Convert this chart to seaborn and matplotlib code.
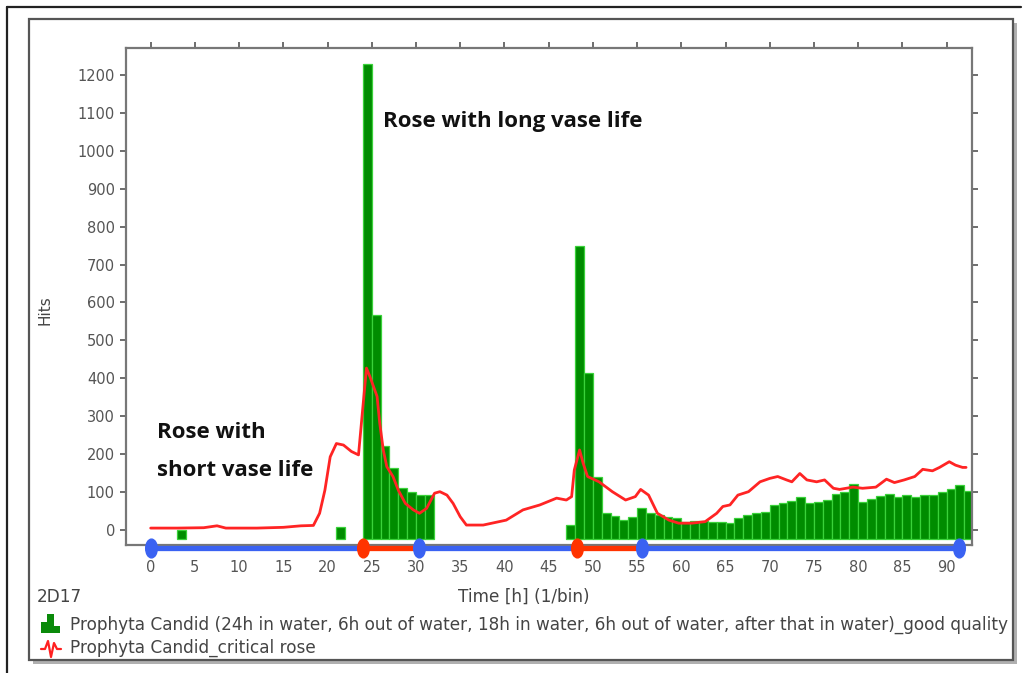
import numpy as np
import pandas as pd
import matplotlib
matplotlib.use("Agg")
import matplotlib.pyplot as plt
import seaborn as sns
from matplotlib.patches import Rectangle
from matplotlib.lines import Line2D
from matplotlib.path import Path
import matplotlib.transforms as mtrans

# ---------------- data ----------------
bar_hours = [3, 21, 24, 25, 26, 27, 28, 29, 30, 31,
             47, 48, 49, 50, 51, 52, 53, 54, 55, 56, 57, 58, 59, 60, 61, 62, 63, 64,
             65, 66, 67, 68, 69, 70, 71, 72, 73, 74, 75, 76, 77, 78, 79, 80,
             81, 82, 83, 84, 85, 86, 87, 88, 89, 90, 91, 92]
bar_hits = [1, 8, 1230, 568, 222, 163, 111, 101, 92, 92,
            13, 749, 413, 141, 46, 37, 26, 33, 57, 46, 40, 33, 31, 22, 24, 24, 22, 22,
            18, 32, 40, 45, 48, 66, 70, 77, 88, 70, 75, 79, 95, 101, 121, 75,
            82, 90, 95, 88, 92, 88, 92, 92, 101, 107, 119, 103]

line_t = [0, 3, 6, 7.5, 8.5, 12, 15, 17, 18.4, 19.1, 19.7, 20.3, 21.0, 21.8, 22.7, 23.5,
          23.9, 24.4, 24.8, 25.6, 25.9, 26.3, 26.7, 27.4, 28.0, 28.8, 29.7, 30.4, 31.2,
          32.1, 32.7, 33.5, 34.2, 35.0, 35.7, 37.6, 40.2, 42.1, 44.0, 45.9, 47.0, 47.6,
          47.9, 48.5, 48.9, 49.4, 50.7, 52.2, 53.7, 54.8, 55.4, 56.3, 57.3, 58.6, 59.7,
          61.2, 62.7, 64.0, 64.7, 65.5, 66.4, 67.6, 68.9, 70.0, 70.9, 71.9, 72.5, 73.4,
          74.2, 75.3, 76.2, 77.2, 77.9, 79.4, 80.5, 82.0, 83.2, 84.1, 85.2, 86.4, 87.3,
          88.4, 89.2, 90.3, 91.0, 91.8, 92.2]
line_hits = [5, 5, 6, 11, 5, 5, 7, 11, 12, 44, 105, 193, 228, 224, 207, 198,
             300, 427, 404, 352, 282, 211, 167, 141, 105, 70, 53, 44, 57,
             97, 101, 92, 70, 35, 13, 13, 26, 53, 66, 84, 79, 88,
             158, 211, 176, 141, 127, 101, 79, 88, 107, 92, 44, 26, 18,
             18, 22, 44, 62, 66, 92, 101, 127, 136, 141, 132, 127, 149,
             132, 127, 132, 110, 107, 113, 110, 113, 134, 125, 132, 141, 160,
             156, 165, 180, 171, 165, 165]

# timeline of treatment (hours): in water (blue) / out of water (red)
phase_start = [0, 24, 30.3, 48.2, 55.6]
phase_end = [24, 30.3, 48.2, 55.6, 91.4]
phase_state = ["water", "dry", "water", "dry", "water"]

x_ticks = list(range(0, 95, 5))
y_ticks = list(range(0, 1300, 100))

series_bar = "Prophyta Candid (24h in water, 6h out of water, 18h in water, 6h out of water, after that in water)_good quality"
series_line = "Prophyta Candid_critical rose"

# ---------------- style ----------------
sns.set_theme(style="white")
plt.rcParams['font.family'] = ['DejaVu Sans']

W, H = 1028, 673
fig = plt.figure(figsize=(W / 100, H / 100), dpi=100)
fig.patch.set_facecolor("white")


def fx(px):
    return px / W


def fy(py):
    return 1 - py / H


# frames (behind the axes)
fig.add_artist(Line2D([fx(7), fx(7)], [fy(7), fy(673)], color="#222222", lw=1.6, zorder=-10))
fig.add_artist(Line2D([fx(7), fx(1021)], [fy(7), fy(7)], color="#222222", lw=1.6, zorder=-10))
fig.add_artist(Rectangle((fx(33), fy(664)), fx(1017) - fx(33), fy(23) - fy(664),
                         facecolor="#b0b0b0", edgecolor="none", zorder=-10))
fig.add_artist(Rectangle((fx(29), fy(660)), fx(1013) - fx(29), fy(19) - fy(660),
                         facecolor="white", edgecolor="#555555", lw=1.6, zorder=-9))

ax = fig.add_axes([fx(126), fy(545), fx(972) - fx(126), fy(48) - fy(545)])
ax.set_facecolor("white")

base = -25
df_bar = pd.DataFrame({"hour": bar_hours, "hits": bar_hits})
ax.bar(df_bar["hour"], df_bar["hits"] - base, bottom=base, width=1.0, align="edge",
       color="#008c00", edgecolor="#3ad23a", linewidth=0.9, zorder=2)

df_line = pd.DataFrame({"t": line_t, "hits": line_hits})
sns.lineplot(data=df_line, x="t", y="hits", ax=ax, color="#ff2424", lw=2.0,
             zorder=3, legend=False)

ax.set_xlim(-2.79, 92.87)
ax.set_ylim(-39.6, 1271)
ax.set_xticks(x_ticks)
ax.set_xticklabels([str(v) for v in x_ticks])
ax.set_yticks(y_ticks)
ax.set_yticklabels([str(v) for v in y_ticks])
ax.set_xlabel("")
ax.set_ylabel("")

for s in ax.spines.values():
    s.set_color("#777777")
    s.set_linewidth(1.6)

ax.tick_params(axis="both", which="both", direction="out", length=4, width=1.2,
               color="#555555", labelcolor="#555555", labelsize=10.5,
               top=True, right=True, bottom=True, left=True,
               labeltop=False, labelright=False)
ax.tick_params(axis="x", pad=7)
ax.tick_params(axis="y", pad=4)

# treatment timeline below the axis
ell = Path.unit_circle().transformed(mtrans.Affine2D().scale(0.62, 1.0))
y_tl = -47.5
for s0, s1, st in zip(phase_start, phase_end, phase_state):
    col = "#3a62f2" if st == "water" else "#ff3300"
    ax.plot([s0, s1], [y_tl, y_tl], color=col, lw=3.8, solid_capstyle="butt",
            clip_on=False, zorder=5)
for s0, st in zip(phase_start, phase_state):
    col = "#3a62f2" if st == "water" else "#ff3300"
    ax.plot([s0], [y_tl], marker=ell, markersize=13.5, color=col, clip_on=False,
            zorder=6, linestyle="none")
ax.plot([phase_end[-1]], [y_tl], marker=ell, markersize=13.5, color="#3a62f2",
        clip_on=False, zorder=6, linestyle="none")

# annotations
ann_font = dict(family=["Open Sans", "DejaVu Sans"], weight="bold", fontsize=16,
                color="#111111")
fig.text(fx(383), fy(121), "Rose with long vase life", va="center", ha="left", **ann_font)
fig.text(fx(157), fy(433), "Rose with", va="center", ha="left", **ann_font)
fig.text(fx(157), fy(471), "short vase life", va="center", ha="left", **ann_font)

# axis labels
small = dict(fontsize=12.2, color="#444444")
fig.text(fx(45), fy(310), "Hits", rotation=90, va="center", ha="center",
         fontsize=11, color="#444444")
fig.text(fx(524), fy(597), "Time [h] (1/bin)", va="center", ha="center", **small)
fig.text(fx(37), fy(597), "2D17", va="center", ha="left", **small)

# legend
fig.text(fx(70), fy(625), series_bar, va="center", ha="left", **small)
fig.text(fx(70), fy(648), series_line, va="center", ha="left", **small)
# legend icons
for (x0, w, y0) in [(41, 6, 622), (47, 7, 614), (54, 6, 626)]:
    fig.add_artist(Rectangle((fx(x0), fy(633)), fx(x0 + w) - fx(x0), fy(y0) - fy(633),
                             facecolor="#0a8a0a", edgecolor="none"))
zx = [41, 45, 48, 51, 54, 57, 61]
zy = [649, 649, 641, 657, 643, 649, 649]
fig.add_artist(Line2D([fx(v) for v in zx], [fy(v) for v in zy], color="#ff2020", lw=1.6))

fig.savefig("out.png", dpi=100)
